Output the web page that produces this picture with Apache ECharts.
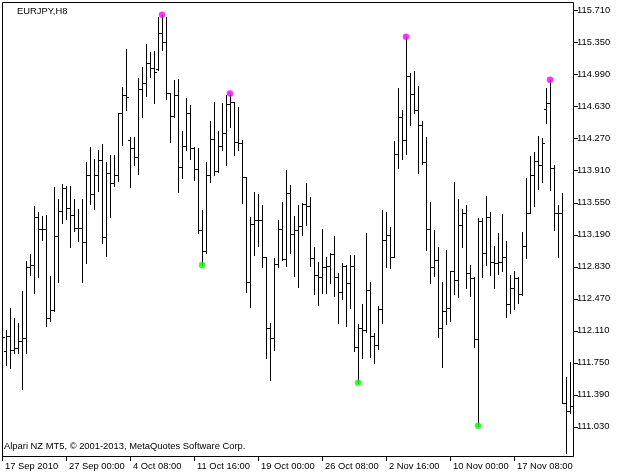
<!DOCTYPE html>
<html><head><meta charset="utf-8">
<script src="https://cdn.jsdelivr.net/npm/echarts@6/dist/echarts.min.js"></script>
<style>html,body{margin:0;padding:0;background:#fff}#c{width:622px;height:475px}</style>
</head><body><div id="c"></div>
<script>
// EURJPY H8 bars, index 0 = 17 Sep 2010 16:00
const opens = [112.006,111.886,112.051,111.893,111.912,111.998,112.025,112.830,112.845,113.384,113.253,113.253,112.249,112.343,113.178,113.459,113.710,113.485,113.410,113.268,113.268,113.111,113.860,113.646,113.860,114.028,113.159,113.886,113.774,113.860,114.560,114.759,114.253,114.159,114.058,114.822,114.890,115.114,115.058,115.045,115.452,115.358,114.777,114.523,114.759,113.953,114.186,114.560,114.159,113.923,113.242,113.010,113.860,114.261,113.908,114.186,114.335,114.658,114.684,114.234,114.223,113.834,112.654,113.309,113.354,113.354,112.942,112.137,112.025,112.860,113.249,112.912,113.661,113.197,113.242,113.287,113.534,113.511,112.923,112.736,112.710,112.830,112.837,112.972,112.710,112.549,112.837,112.643,112.837,111.931,112.137,112.118,112.568,112.051,111.950,112.350,113.129,113.182,112.935,114.096,114.515,114.253,114.972,114.770,114.590,114.422,114.010,113.249,112.822,112.905,112.137,112.335,112.362,112.785,112.680,113.298,113.429,112.755,112.699,112.013,113.347,112.987,113.384,112.886,112.875,112.886,112.935,112.410,112.586,112.699,112.523,113.062,113.429,113.860,114.021,113.972,114.598,114.672,113.935,113.437,113.429,111.302,111.212];
const highs = [112.099,112.118,112.362,112.249,112.193,112.560,112.897,112.972,113.511,113.448,113.399,113.410,112.725,113.721,113.586,113.759,113.736,113.736,113.586,113.474,113.586,114.010,114.178,114.036,114.141,114.208,114.010,114.084,114.084,114.560,114.852,115.275,114.290,114.290,114.946,115.077,115.332,115.246,115.257,115.639,115.661,115.639,114.777,114.927,114.935,114.354,114.721,114.646,114.178,114.167,113.467,114.010,114.467,114.684,114.354,114.665,114.759,114.774,114.684,114.628,114.253,113.841,113.392,113.672,113.646,113.523,112.942,112.201,112.923,113.354,113.560,113.916,113.747,113.399,113.523,113.549,113.774,113.616,113.054,112.886,113.249,112.935,112.987,113.174,112.755,112.875,112.849,112.961,112.961,112.186,112.410,113.204,112.661,112.081,112.388,113.467,113.448,113.272,114.246,114.834,114.590,115.414,115.010,115.032,114.860,114.470,114.290,113.560,113.242,113.047,112.661,113.017,112.785,113.785,113.590,113.474,113.523,112.849,112.710,113.373,113.373,113.624,113.448,113.062,113.212,113.421,113.122,112.736,112.785,112.710,113.223,113.822,114.073,114.122,114.298,114.272,114.834,114.931,113.972,113.523,113.661,111.594,111.762];
const lows = [111.950,111.725,111.687,111.856,111.856,111.452,111.864,112.736,112.538,112.710,113.129,112.163,112.223,112.335,112.661,113.324,113.362,113.054,113.234,113.122,112.661,112.867,113.534,113.474,113.684,113.092,112.950,113.392,113.736,113.796,114.197,114.590,113.729,113.972,113.871,114.508,114.747,114.965,114.672,115.040,115.264,114.710,114.234,114.515,113.672,113.822,114.141,114.036,113.804,113.204,112.849,112.980,113.785,113.860,113.897,114.141,113.972,114.403,114.084,114.141,113.541,112.549,112.380,112.961,113.062,112.830,111.800,111.556,111.893,112.830,112.905,112.837,112.987,112.725,112.605,113.186,113.298,112.837,112.523,112.399,112.538,112.538,112.643,112.500,112.201,112.463,112.163,112.362,111.886,111.526,111.800,112.099,111.819,111.751,111.901,112.201,112.830,112.811,112.935,113.935,114.036,114.096,114.422,114.553,113.886,113.983,113.017,112.650,112.725,112.043,111.706,112.186,112.223,112.523,112.493,113.054,112.586,112.500,111.931,111.043,112.710,112.849,112.736,112.586,112.747,112.785,112.260,112.313,112.350,112.425,112.511,112.923,113.429,113.511,113.699,113.785,114.448,113.691,113.242,112.942,111.302,110.740,111.189];
const closes = [112.036,112.051,111.893,111.912,111.998,112.025,112.830,112.845,113.384,113.253,113.253,112.249,112.343,113.178,113.459,113.710,113.485,113.410,113.268,113.268,113.111,113.860,113.646,113.860,114.028,113.159,113.886,113.774,113.860,114.560,114.759,114.732,114.159,114.058,114.822,114.890,115.114,115.058,115.021,115.452,115.358,114.777,114.523,114.759,113.953,114.186,114.560,114.159,113.923,113.242,113.010,113.860,114.261,113.908,114.186,114.335,114.658,114.684,114.234,114.223,113.834,112.654,113.309,113.354,113.354,112.942,112.137,112.025,112.860,113.249,112.912,113.661,113.197,113.242,113.287,113.534,113.511,112.923,112.736,112.710,112.830,112.837,112.972,112.710,112.549,112.837,112.643,112.837,111.931,112.137,112.118,112.568,112.051,111.950,112.350,113.129,113.182,112.935,114.096,114.515,114.253,114.972,114.770,114.590,114.422,114.010,113.249,112.822,112.905,112.137,112.335,112.362,112.785,112.680,113.298,113.429,112.755,112.699,112.013,113.347,112.987,113.384,112.886,112.875,112.886,112.935,112.410,112.586,112.699,112.523,113.062,113.429,113.860,114.021,113.972,114.216,114.672,113.935,113.437,113.429,111.302,111.212,111.264];
const upFractalIdx = [40, 57, 101, 137];
const downFractalIdx = [50, 89, 119];
const xTickIdx = [0, 16, 32, 48, 64, 80, 96, 112, 128];
const xTickLabels = ['17 Sep 2010','27 Sep 00:00','4 Oct 08:00','11 Oct 16:00','19 Oct 00:00','26 Oct 08:00','2 Nov 16:00','10 Nov 00:00','17 Nov 08:00'];
const yTicks = [111.03,111.39,111.75,112.11,112.47,112.83,113.19,113.55,113.91,114.27,114.63,114.99,115.35,115.71];
const titleText = 'EURJPY,H8';
const footerText = 'Alpari NZ MT5, \u00a9 2001-2013, MetaQuotes Software Corp.';

const FONT = '"Liberation Sans", Arial, sans-serif';
const X_MAX = 143;
const barData = opens.map((o, i) => [i, o, highs[i], lows[i], closes[i]]);
const upData = upFractalIdx.map(i => [i, highs[i]]);
const downData = downFractalIdx.map(i => [i, lows[i]]);
const yTickData = yTicks.map(v => [X_MAX, v]);

const chart = echarts.init(document.getElementById('c'), null, {renderer: 'canvas'});
chart.setOption({
  animation: false,
  backgroundColor: '#fff',
  grid: {left: 2, top: 2, width: 572, height: 454, show: false},
  xAxis: {
    type: 'value', min: 0, max: X_MAX,
    splitLine: {show: false},
    axisLine: {show: false},
    axisTick: {show: true, length: 5, customValues: xTickIdx, lineStyle: {color: '#000', width: 1}},
    axisLabel: {
      customValues: xTickIdx, align: 'left', margin: 6, padding: [0, 0, 0, 3],
      color: '#000', fontFamily: FONT, fontSize: 9.4,
      formatter: v => { const k = xTickIdx.indexOf(Math.round(v)); return k >= 0 ? xTickLabels[k] : ''; }
    }
  },
  yAxis: {
    type: 'value', position: 'right', min: 110.7021, max: 115.8032,
    splitLine: {show: false},
    axisLine: {show: false},
    axisTick: {show: false},
    axisLabel: {
      customValues: yTicks, margin: 3, color: '#000', fontFamily: FONT, fontSize: 9.4,
      formatter: v => Number(v).toFixed(3)
    }
  },
  graphic: [
    {type: 'rect', shape: {x: 2.5, y: 2.5, width: 571, height: 454}, style: {fill: null, stroke: '#000', lineWidth: 1}, z: 100, silent: true},
    {type: 'text', x: 17, y: 11, style: {text: titleText, fill: '#000', font: '9.4px ' + FONT, verticalAlign: 'middle'}, z: 100},
    {type: 'text', x: 4, y: 446.5, style: {text: footerText, fill: '#000', font: '9.4px ' + FONT, verticalAlign: 'middle'}, z: 100}
  ],
  series: [
    {
      type: 'custom',
      data: barData,
      encode: {x: 0, y: [1, 2, 3, 4]},
      clip: true,
      renderItem: (params, api) => {
        const i = api.value(0);
        const pO = api.coord([i, api.value(1)]);
        const pH = api.coord([i, api.value(2)]);
        const pL = api.coord([i, api.value(3)]);
        const pC = api.coord([i, api.value(4)]);
        const px = Math.round(pH[0]);
        const x = px + 0.5;
        const yo = Math.round(pO[1]) + 0.5;
        const yc = Math.round(pC[1]) + 0.5;
        const st = {stroke: '#000', lineWidth: 1};
        return {type: 'group', children: [
          {type: 'line', shape: {x1: x, y1: Math.round(pH[1]), x2: x, y2: Math.round(pL[1]) + 1}, style: st},
          {type: 'line', shape: {x1: px - 2, y1: yo, x2: px, y2: yo}, style: st},
          {type: 'line', shape: {x1: px + 1, y1: yc, x2: px + 3, y2: yc}, style: st}
        ]};
      }
    },
    {
      type: 'custom',
      data: yTickData,
      encode: {x: 0, y: 1},
      clip: false,
      silent: true,
      renderItem: (params, api) => {
        const p = api.coord([api.value(0), api.value(1)]);
        const x0 = Math.round(p[0]);
        const y = Math.round(p[1]) + 0.5;
        return {type: 'line', shape: {x1: x0, y1: y, x2: x0 + 4, y2: y}, style: {stroke: '#000', lineWidth: 1}};
      }
    },
    {type: 'scatter', data: upData, symbol: 'circle', symbolSize: 6.5, itemStyle: {color: '#ff00ff'}, z: 5},
    {type: 'scatter', data: downData, symbol: 'circle', symbolSize: 6.5, itemStyle: {color: '#00ff00'}, z: 5}
  ]
});
</script>
</body></html>
